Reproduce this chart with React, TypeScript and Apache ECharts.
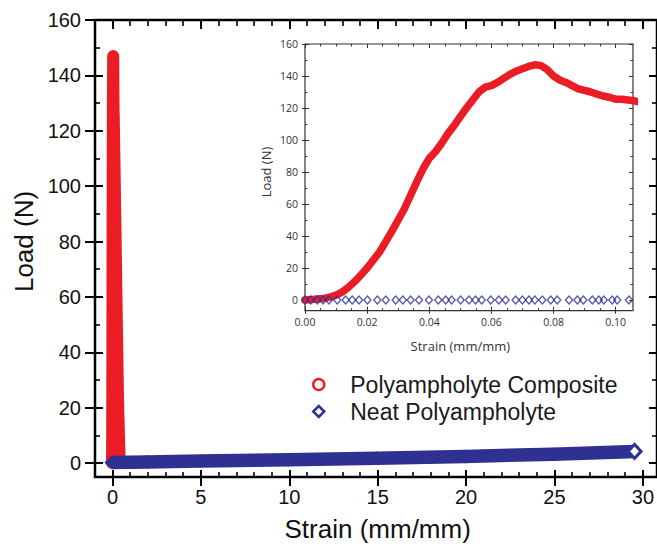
import React, { useEffect, useRef } from 'react';
import * as echarts from 'echarts';

// ---- Data ----
const compositeStrain = [
  0, 0.003, 0.006, 0.008, 0.010, 0.012, 0.014, 0.016, 0.018, 0.020,
  0.022, 0.024, 0.026, 0.028, 0.030, 0.032, 0.034, 0.036, 0.038, 0.040,
  0.042, 0.044, 0.046, 0.048, 0.050, 0.052, 0.054, 0.056, 0.058, 0.060,
  0.062, 0.064, 0.066, 0.068, 0.070, 0.072, 0.074, 0.076, 0.078, 0.080,
  0.082, 0.084, 0.086, 0.088, 0.090, 0.092, 0.094, 0.096, 0.098, 0.100,
  0.102, 0.104, 0.106, 0.15, 0.2, 0.25, 0.3, 0.35, 0.44,
];
const compositeLoad = [
  0, 0.4, 1, 1.8, 3, 5, 8, 11.5, 15.6, 20,
  25, 30, 36.5, 43, 50, 57, 65.5, 74, 82, 88.5,
  92.7, 98, 104, 109, 114.6, 120, 125, 130, 133, 134,
  136, 138.5, 141, 143, 144.5, 146, 147, 146.5, 144, 140,
  137.5, 136, 134, 132, 131, 130, 128.7, 127.5, 126.7, 125.5,
  125.5, 125, 124.5, 106, 85, 63, 42, 21, 1,
];
const neatStrainFull = [0, 2, 5, 10, 15, 20, 25, 29.6];
const neatLoadFull = [0.1, 0.3, 0.6, 1.1, 1.6, 2.3, 3.1, 4.1];
const neatStrainInset = [
  0, 0.0018, 0.0040, 0.0058, 0.0077, 0.0104, 0.0131, 0.0152, 0.0174, 0.0201,
  0.0233, 0.0260, 0.0292, 0.0315, 0.0340, 0.0367, 0.0399, 0.0429, 0.0453, 0.0472,
  0.0501, 0.0528, 0.0549, 0.0569, 0.0598, 0.0624, 0.0646, 0.0678, 0.0700, 0.0721,
  0.0740, 0.0764, 0.0791, 0.0812, 0.0850, 0.0877, 0.0896, 0.0925, 0.0946, 0.0962,
  0.0989, 0.1005, 0.1043,
];
const neatLoadInset = [
  0, 0, 0, 0, 0, 0, 0, 0, 0, 0,
  0, 0, 0, 0, 0, 0, 0, 0, 0, 0,
  0, 0, 0, 0, 0, 0, 0, 0, 0, 0,
  0, 0, 0, 0, 0, 0, 0, 0, 0, 0,
  0, 0, 0,
];
const mainXTicks = [0, 5, 10, 15, 20, 25, 30];
const mainYTicks = [0, 20, 40, 60, 80, 100, 120, 140, 160];
const insetXTicks = [0, 0.02, 0.04, 0.06, 0.08, 0.1];
const insetYTicks = [0, 20, 40, 60, 80, 100, 120, 140, 160];

const seriesNames = ['Polyampholyte Composite', 'Neat Polyampholyte'];

const RED = '#ec1c24';
const BLUE = '#2e3192';
const MAIN_FONT = 'Liberation Sans, Arial, sans-serif';
const INSET_FONT = 'Open Sans, Noto Sans, sans-serif';

const hiddenAxis = (g: number) => ({ gridIndex: g, type: 'value', min: 0, max: 1, show: false });

export default function App() {
  const ref = useRef<HTMLDivElement>(null);
  useEffect(() => {
    if (!ref.current) return;
    const chart = echarts.init(ref.current, null, { renderer: 'svg' });

    const mainX = {
      min: mainXTicks[0],
      max: mainXTicks[mainXTicks.length - 1],
      interval: mainXTicks[1] - mainXTicks[0],
    };
    const mainY = {
      min: mainYTicks[0],
      max: mainYTicks[mainYTicks.length - 1],
      interval: mainYTicks[1] - mainYTicks[0],
    };
    const insX = {
      min: insetXTicks[0],
      max: insetXTicks[insetXTicks.length - 1],
      interval: insetXTicks[1] - insetXTicks[0],
    };
    const insY = {
      min: insetYTicks[0],
      max: insetYTicks[insetYTicks.length - 1],
      interval: insetYTicks[1] - insetYTicks[0],
    };

    const mainTick = { lineStyle: { color: '#000', width: 2 } };
    const insTick = { lineStyle: { color: '#333', width: 1 } };

    const option: any = {
      animation: false,
      backgroundColor: '#fff',
      grid: [
        // 0: main data frame
        { left: 95, top: 20, width: 565, height: 457, show: true, borderColor: '#000', borderWidth: 2.5, backgroundColor: 'transparent', containLabel: false },
        // 1: main x ticks (0..30)
        { left: 112.5, top: 20, width: 532.5, height: 457, containLabel: false },
        // 2: main y ticks (0..160)
        { left: 95, top: 20, width: 565, height: 443, containLabel: false },
        // 3: inset data frame
        { left: 305, top: 44, width: 328, height: 266.7, show: true, borderColor: '#333', borderWidth: 1.2, backgroundColor: '#fff', containLabel: false },
        // 4: inset x ticks (0..0.10)
        { left: 305, top: 44, width: 310.7, height: 266.7, containLabel: false },
        // 5: inset y ticks (0..160)
        { left: 305, top: 44, width: 328, height: 256, containLabel: false },
      ],
      xAxis: [
        { gridIndex: 0, type: 'value', min: -0.9577, max: 30.87, show: false },
        {
          gridIndex: 1, type: 'value', position: 'bottom', ...mainX,
          axisLine: { show: false }, splitLine: { show: false },
          axisTick: { show: true, inside: false, length: 9, ...mainTick },
          axisLabel: { fontFamily: MAIN_FONT, fontSize: 20, color: '#111', margin: 10 },
          name: 'Strain (mm/mm)', nameLocation: 'middle', nameGap: 39,
          nameTextStyle: { fontFamily: MAIN_FONT, fontSize: 26, color: '#111' },
        },
        {
          gridIndex: 1, type: 'value', position: 'bottom', ...mainX,
          axisLine: { show: false }, splitLine: { show: false }, axisLabel: { show: false },
          axisTick: { show: true, inside: true, length: 7, ...mainTick },
          minorTick: { show: true, splitNumber: 5, length: 5, lineStyle: { color: '#000', width: 1.6 } },
        },
        {
          gridIndex: 1, type: 'value', position: 'top', ...mainX,
          axisLine: { show: false }, splitLine: { show: false }, axisLabel: { show: false },
          axisTick: { show: true, inside: true, length: 9, ...mainTick },
          minorTick: { show: true, splitNumber: 5, length: 6, lineStyle: { color: '#000', width: 1.6 } },
        },
        hiddenAxis(2),
        { gridIndex: 3, type: 'value', min: 0, max: 0.1056, show: false },
        {
          gridIndex: 4, type: 'value', position: 'bottom', ...insX,
          axisLine: { show: false }, splitLine: { show: false },
          axisTick: { show: true, inside: false, length: 3, ...insTick },
          axisLabel: { fontFamily: INSET_FONT, fontSize: 10.5, color: '#333', margin: 6, formatter: (v: number) => v.toFixed(2) },
          name: 'Strain (mm/mm)', nameLocation: 'middle', nameGap: 29,
          nameTextStyle: { fontFamily: INSET_FONT, fontSize: 13, color: '#333' },
        },
        {
          gridIndex: 4, type: 'value', position: 'bottom', ...insX,
          axisLine: { show: false }, splitLine: { show: false }, axisLabel: { show: false },
          axisTick: { show: true, inside: true, length: 4, ...insTick },
          minorTick: { show: true, splitNumber: 4, length: 2.5, ...insTick },
        },
        {
          gridIndex: 4, type: 'value', position: 'top', ...insX,
          axisLine: { show: false }, splitLine: { show: false }, axisLabel: { show: false },
          axisTick: { show: true, inside: true, length: 4, ...insTick },
          minorTick: { show: true, splitNumber: 4, length: 2.5, ...insTick },
        },
        hiddenAxis(5),
      ],
      yAxis: [
        { gridIndex: 0, type: 'value', min: -5.15, max: 160, show: false },
        hiddenAxis(1),
        {
          gridIndex: 2, type: 'value', position: 'left', ...mainY,
          axisLine: { show: false }, splitLine: { show: false },
          axisTick: { show: true, inside: false, length: 10, ...mainTick },
          axisLabel: { fontFamily: MAIN_FONT, fontSize: 20, color: '#111', margin: 14 },
          name: 'Load (N)', nameLocation: 'middle', nameGap: 56, nameRotate: 90,
          nameTextStyle: { fontFamily: MAIN_FONT, fontSize: 26, color: '#111' },
        },
        {
          gridIndex: 2, type: 'value', position: 'left', ...mainY,
          axisLine: { show: false }, splitLine: { show: false }, axisLabel: { show: false },
          axisTick: { show: true, inside: true, length: 8, ...mainTick },
          minorTick: { show: true, splitNumber: 2, length: 5, lineStyle: { color: '#000', width: 1.6 } },
        },
        {
          gridIndex: 2, type: 'value', position: 'right', ...mainY,
          axisLine: { show: false }, splitLine: { show: false }, axisLabel: { show: false },
          axisTick: { show: true, inside: true, length: 8, ...mainTick },
          minorTick: { show: true, splitNumber: 2, length: 5, lineStyle: { color: '#000', width: 1.6 } },
        },
        { gridIndex: 3, type: 'value', min: -6.7, max: 160, show: false },
        hiddenAxis(4),
        {
          gridIndex: 5, type: 'value', position: 'left', ...insY,
          axisLine: { show: false }, splitLine: { show: false },
          axisTick: { show: true, inside: false, length: 3, ...insTick },
          axisLabel: { fontFamily: INSET_FONT, fontSize: 10.5, color: '#333', margin: 7 },
          name: 'Load (N)', nameLocation: 'middle', nameGap: 33, nameRotate: 90,
          nameTextStyle: { fontFamily: INSET_FONT, fontSize: 13, color: '#333' },
        },
        {
          gridIndex: 5, type: 'value', position: 'left', ...insY,
          axisLine: { show: false }, splitLine: { show: false }, axisLabel: { show: false },
          axisTick: { show: true, inside: true, length: 4, ...insTick },
          minorTick: { show: true, splitNumber: 2, length: 2.5, ...insTick },
        },
        {
          gridIndex: 5, type: 'value', position: 'right', ...insY,
          axisLine: { show: false }, splitLine: { show: false }, axisLabel: { show: false },
          axisTick: { show: true, inside: true, length: 4, ...insTick },
          minorTick: { show: true, splitNumber: 2, length: 2.5, ...insTick },
        },
      ],
      legend: {
        orient: 'vertical',
        left: 307,
        top: 368,
        itemWidth: 11,
        itemHeight: 11,
        itemGap: 4,
        selectedMode: false,
        textStyle: { fontFamily: MAIN_FONT, fontSize: 23, color: '#1a1a1a', padding: [0, 0, 0, 21] },
        data: [
          { name: seriesNames[0], icon: 'circle', itemStyle: { color: '#fff', borderColor: RED, borderWidth: 2.5 } },
          { name: seriesNames[1], icon: 'diamond', itemStyle: { color: '#fff', borderColor: BLUE, borderWidth: 2.5 } },
        ],
      },
      series: [
        {
          name: seriesNames[0], type: 'line', xAxisIndex: 0, yAxisIndex: 0,
          data: compositeStrain.map((s, i) => [s, compositeLoad[i]]),
          showSymbol: false, symbol: 'none', color: RED,
          lineStyle: { color: RED, width: 12, cap: 'round', join: 'round' },
          z: 2,
        },
        {
          name: seriesNames[1], type: 'line', xAxisIndex: 0, yAxisIndex: 0,
          data: neatStrainFull.map((s, i) => {
            const last = i === neatStrainFull.length - 1;
            return last
              ? { value: [s, neatLoadFull[i]], symbolSize: [13, 14], itemStyle: { color: '#fff', borderColor: BLUE, borderWidth: 3 } }
              : { value: [s, neatLoadFull[i]] };
          }),
          showSymbol: true, symbol: 'diamond', symbolSize: [15, 14], color: BLUE,
          itemStyle: { color: BLUE },
          lineStyle: { color: BLUE, width: 13.5, join: 'round' },
          z: 3,
        },
        {
          name: seriesNames[0], type: 'line', xAxisIndex: 5, yAxisIndex: 5,
          data: compositeStrain.map((s, i) => [s, compositeLoad[i]]),
          showSymbol: false, symbol: 'none', color: RED, clip: true,
          lineStyle: { color: RED, width: 7.5, cap: 'round', join: 'round' },
          z: 4,
        },
        {
          name: seriesNames[1], type: 'scatter', xAxisIndex: 5, yAxisIndex: 5,
          data: neatStrainInset.map((s, i) => [s, neatLoadInset[i]]),
          symbol: 'diamond', symbolSize: [7, 8], clip: false,
          itemStyle: { color: 'rgba(255,255,255,0)', borderColor: BLUE, borderWidth: 1.4 },
          z: 5,
        },
      ],
    };

    chart.setOption(option);
    return () => chart.dispose();
  }, []);

  return (
    <div
      ref={ref}
      style={{ position: 'fixed', left: 0, top: 0, width: 657, height: 552, background: '#fff' }}
    />
  );
}
